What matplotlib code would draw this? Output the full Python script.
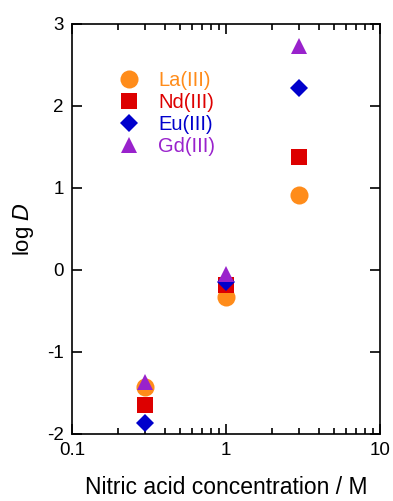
import numpy as np
import matplotlib
matplotlib.use("Agg")
import matplotlib.pyplot as plt
from matplotlib.ticker import LogLocator, NullFormatter, FixedLocator

plt.rcParams['font.family'] = ['Liberation Sans', 'DejaVu Sans']

# data
hno3 = [0.3, 1, 3]
la = [-1.43, -0.33, 0.92]
nd = [-1.65, -0.18, 1.38]
eu = [-1.86, -0.15, 2.22]
gd = [-1.36, -0.05, 2.73]

series = [
    ('La(III)', la, 'o', '#FF8C1A', 13),
    ('Nd(III)', nd, 's', '#DD0000', 12),
    ('Eu(III)', eu, 'D', '#0000CC', 9),
    ('Gd(III)', gd, '^', '#9922CC', 11),
]

fig = plt.figure(figsize=(3.93, 5.01), dpi=100)
ax = fig.add_axes([72/393, 1-434/501, 308/393, 410/501])

for name, vals, m, c, ms in series:
    ax.plot(hno3, vals, linestyle='none', marker=m, color=c, markersize=ms,
            markeredgewidth=0, label=name)

ax.set_xscale('log')
ax.set_xlim(0.1, 10)
ax.set_ylim(-2, 3)
ax.set_xticks([0.1, 1, 10])
ax.set_xticklabels(['0.1', '1', '10'])
ax.xaxis.set_minor_locator(LogLocator(base=10, subs=np.arange(2, 10)))
ax.xaxis.set_minor_formatter(NullFormatter())
ax.yaxis.set_major_locator(FixedLocator([-2, -1, 0, 1, 2, 3]))
ax.set_yticklabels(['-2', '-1', '0', '1', '2', '3'])

ax.tick_params(which='both', direction='in', top=True, right=True, labelsize=13.5, width=1.2)
ax.tick_params(which='major', length=7, pad=6)
ax.tick_params(which='minor', length=4)
for s in ax.spines.values():
    s.set_linewidth(1.2)

ax.set_xlabel('Nitric acid concentration / M', fontsize=16.5, labelpad=12)
ax.set_ylabel('log $\\it{D}$', fontsize=16, labelpad=8)

leg = ax.legend(loc='upper left', bbox_to_anchor=(0.11, 0.905), frameon=False,
                fontsize=14.5, handletextpad=0.7, labelspacing=0.15, borderaxespad=0,
                handlelength=1.5)
for t, (_, _, _, c, _) in zip(leg.get_texts(), series):
    t.set_color(c)

fig.savefig('out.png', dpi=100)
